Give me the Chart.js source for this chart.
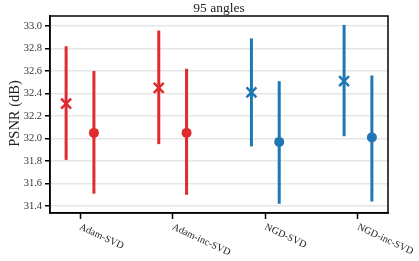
<!DOCTYPE html>
<html>
<head>
<meta charset="utf-8">
<script src="https://cdn.jsdelivr.net/npm/chart.js@4"></script>
<style>
    html, body { margin: 0; padding: 0; background: #fff; }
    #wrap { width: 419px; height: 261px; }
</style>
</head>
<body>
<div id="wrap"><canvas id="psnrChart"></canvas></div>
<script>
const categories = ["Adam-SVD", "Adam-inc-SVD", "NGD-SVD", "NGD-inc-SVD"];
const groupColors = ["#df2a2e", "#df2a2e", "#1f77b4", "#1f77b4"];

// "x" markers (left of each tick)
const crossMean = [32.31, 32.45, 32.41, 32.51];
const crossLow = [31.81, 31.95, 31.93, 32.02];
const crossHigh = [32.82, 32.96, 32.89, 33.01];

// dot markers (right of each tick)
const dotMean = [32.05, 32.05, 31.97, 32.01];
const dotLow = [31.51, 31.50, 31.42, 31.44];
const dotHigh = [32.60, 32.62, 32.51, 32.56];

const yTicks = [31.4, 31.6, 31.8, 32.0, 32.2, 32.4, 32.6, 32.8, 33.0];
const titleText = "95 angles";
const yLabel = "PSNR (dB)";

const FONT = "'Liberation Serif', 'DejaVu Serif', serif";
const shift = 0.15;

const datasets = [];

// error bars, one small line dataset each
categories.forEach((cat, i) => {
    datasets.push({
        type: "line",
        data: [{ x: i - shift, y: crossLow[i] }, { x: i - shift, y: crossHigh[i] }],
        borderColor: groupColors[i],
        borderWidth: 3,
        pointRadius: 0,
        borderCapStyle: "butt"
    });
    datasets.push({
        type: "line",
        data: [{ x: i + shift, y: dotLow[i] }, { x: i + shift, y: dotHigh[i] }],
        borderColor: groupColors[i],
        borderWidth: 3,
        pointRadius: 0,
        borderCapStyle: "butt"
    });
});

datasets.push({
    type: "scatter",
    data: crossMean.map((v, i) => ({ x: i - shift, y: v })),
    pointStyle: "crossRot",
    pointRadius: 7,
    borderWidth: 2.5,
    borderColor: groupColors,
    backgroundColor: groupColors
});
datasets.push({
    type: "scatter",
    data: dotMean.map((v, i) => ({ x: i + shift, y: v })),
    pointStyle: "circle",
    pointRadius: 5,
    borderWidth: 0,
    borderColor: groupColors,
    backgroundColor: groupColors
});

// text and frame drawn outside the plot area
const decorations = {
    id: "decorations",
    afterDraw(chart) {
        const ctx = chart.ctx;
        const area = chart.chartArea;
        const xs = chart.scales.x;
        ctx.save();

        // frame
        ctx.strokeStyle = "#000";
        ctx.lineWidth = 1.5;
        ctx.strokeRect(area.left, area.top, area.right - area.left, area.bottom - area.top);

        // title
        ctx.fillStyle = "#222";
        ctx.font = "13.5px " + FONT;
        ctx.textAlign = "center";
        ctx.textBaseline = "alphabetic";
        ctx.fillText(titleText, (area.left + area.right) / 2, 12);

        // y axis label
        ctx.save();
        ctx.translate(15, (area.top + area.bottom) / 2 - 1);
        ctx.rotate(-Math.PI / 2);
        ctx.font = "14.5px " + FONT;
        ctx.textBaseline = "middle";
        ctx.fillText(yLabel, 0, 0);
        ctx.restore();

        // rotated category labels
        ctx.font = "10px " + FONT;
        ctx.textAlign = "left";
        ctx.textBaseline = "top";
        categories.forEach((cat, i) => {
            ctx.save();
            ctx.translate(xs.getPixelForValue(i) + 2, area.bottom + 9);
            ctx.rotate(25 * Math.PI / 180);
            ctx.fillText(cat, 0, 0);
            ctx.restore();
        });
        ctx.restore();
    }
};

const ctx = document.getElementById("psnrChart").getContext("2d");
new Chart(ctx, {
    data: { datasets: datasets },
    options: {
        responsive: true,
        maintainAspectRatio: false,
        animation: false,
        layout: {
            padding: { left: 0, right: 31, top: 16, bottom: 0 }
        },
        plugins: {
            legend: { display: false },
            tooltip: { enabled: false }
        },
        scales: {
            x: {
                type: "linear",
                min: -0.324,
                max: 3.324,
                afterBuildTicks: (scale) => {
                    scale.ticks = categories.map((c, i) => ({ value: i }));
                },
                afterFit: (scale) => { scale.height = 48; },
                ticks: { display: false },
                grid: {
                    drawOnChartArea: false,
                    drawTicks: true,
                    tickLength: 6,
                    tickWidth: 1.5,
                    tickColor: "#000"
                },
                border: { color: "#000", width: 1.5 }
            },
            y: {
                min: 31.338,
                max: 33.089,
                afterBuildTicks: (scale) => {
                    scale.ticks = yTicks.map(v => ({ value: v }));
                },
                afterFit: (scale) => { scale.width = 50; },
                ticks: {
                    color: "#333",
                    padding: 3,
                    font: { family: FONT, size: 10.5 },
                    callback: (v) => v.toFixed(1)
                },
                grid: {
                    color: "#e6e6e6",
                    lineWidth: 1.5,
                    tickLength: 5,
                    tickColor: "#000",
                    tickWidth: 1.5
                },
                border: { color: "#000", width: 1.5 }
            }
        }
    },
    plugins: [decorations]
});
</script>
</body>
</html>
